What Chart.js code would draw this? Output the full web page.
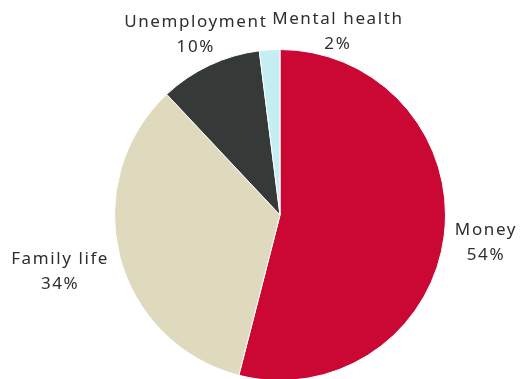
<!DOCTYPE html>
<html>
<head>
<meta charset="utf-8">
<script src="https://cdn.jsdelivr.net/npm/chart.js@4"></script>
<style>
  html, body { margin: 0; padding: 0; background: #fff; overflow: hidden; }
  #wrap { position: relative; width: 532px; height: 400px; }
</style>
</head>
<body>
<div id="wrap"><canvas id="worries-pie"></canvas></div>
<script>
(() => {
  const labels = ['Money', 'Family life', 'Unemployment', 'Mental health'];
  const shares = [54, 34, 10, 2];
  const colors = ['#CB0733', '#DFD9BD', '#353A39', '#C5EEF2'];

  // small nudges so the labels don't collide (px)
  const nudge = [[1, 2.5], [-2.5, 7], [21, 1.5], [73, 16.5]];

  const outsideLabels = {
    id: 'outsideLabels',
    afterDatasetsDraw(chart) {
      const ctx = chart.ctx;
      const arcs = chart.getDatasetMeta(0).data;
      ctx.save();
      ctx.font = '17px "Noto Sans"';
      ctx.letterSpacing = '1.6px';
      ctx.fillStyle = '#2e2e2e';
      ctx.textAlign = 'center';
      ctx.textBaseline = 'middle';
      const lh = 25;
      arcs.forEach((arc, i) => {
        const mid = (arc.startAngle + arc.endAngle) / 2;
        const dx = Math.cos(mid), dy = Math.sin(mid);
        const px = arc.x + (arc.outerRadius + 10) * dx;
        const py = arc.y + (arc.outerRadius + 10) * dy;
        const lines = [labels[i], shares[i] + '%'];
        const w = Math.max(...lines.map(t => ctx.measureText(t).width));
        const h = lh * 2;
        const cx = px + dx * w / 2 + nudge[i][0];
        const cy = py + dy * h / 2 + nudge[i][1];
        ctx.fillText(lines[0], cx, cy - lh / 2);
        ctx.fillText(lines[1], cx, cy + lh / 2);
      });
      ctx.restore();
    }
  };

  new Chart('worries-pie', {
    type: 'pie',
    data: {
      labels: labels,
      datasets: [{
        data: shares,
        backgroundColor: colors,
        borderColor: '#fff',
        borderWidth: 1
      }]
    },
    options: {
      responsive: true,
      maintainAspectRatio: false,
      animation: false,
      layout: { padding: { top: 49, bottom: 19, left: 114, right: 86 } },
      plugins: {
        legend: { display: false },
        tooltip: { enabled: false }
      }
    },
    plugins: [outsideLabels]
  });
})();
</script>
</body>
</html>
